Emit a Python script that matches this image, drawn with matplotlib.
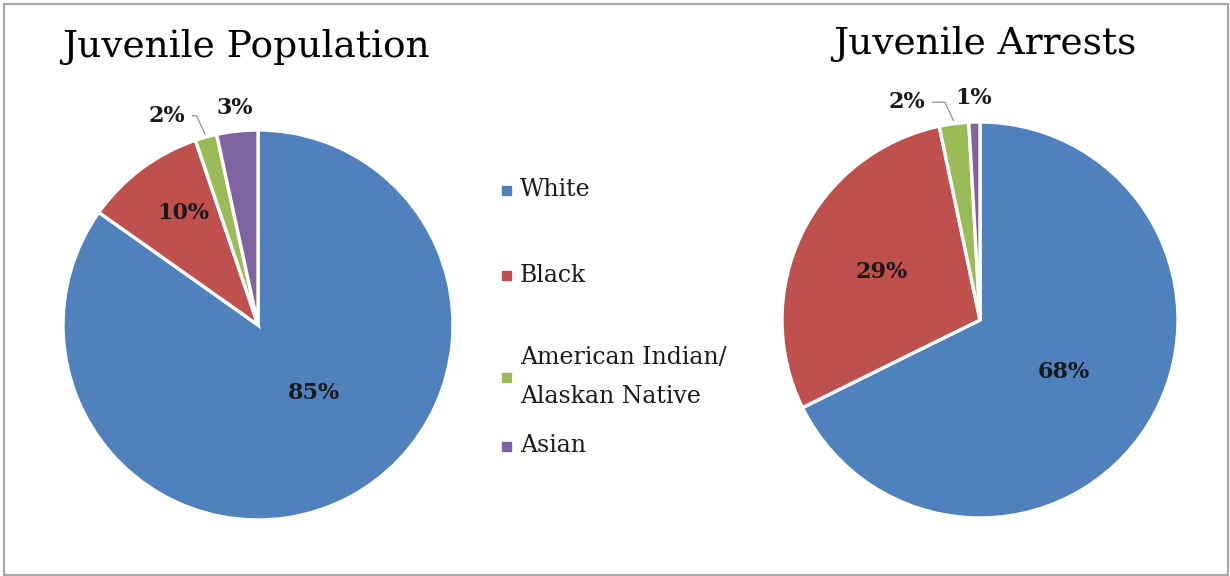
import numpy as np
import matplotlib.pyplot as plt
from matplotlib.patches import Rectangle

categories = ["White", "Black", "American Indian/\nAlaskan Native", "Asian"]
population = [84.8, 10.0, 1.8, 3.4]
arrests = [67.7, 29.0, 2.4, 0.9]
colors = ["#4F81BD", "#C0504D", "#9BBB59", "#8064A2"]

# label placement per wedge: (distance as fraction of radius, angle nudge in degrees, leader line)
pop_lbl = [(0.45, 12, False), (0.69, -3, False), (1.17, 8, True), (1.12, 0, False)]
arr_lbl = [(0.5, 0, False), (0.55, 0, False), (1.16, 11, True), (1.12, 0, False)]

plt.rcParams['font.family'] = ['DejaVu Serif']

fig = plt.figure(figsize=(12.3, 5.76), dpi=100)
ax = fig.add_axes([0, 0, 1, 1])


def draw_pie(vals, cx, cy, r, lbl):
    wedges, _ = ax.pie(vals, colors=colors, startangle=90, counterclock=False,
                       center=(cx, cy), radius=r,
                       wedgeprops=dict(edgecolor='white', linewidth=2.4))
    for w, v, (d, nudge, leader) in zip(wedges, vals, lbl):
        mid = np.deg2rad((w.theta1 + w.theta2) / 2)
        ang = mid + np.deg2rad(nudge)
        tx, ty = cx + d * r * np.cos(ang), cy + d * r * np.sin(ang)
        txt = '%.0f%%' % v
        if leader:
            ex, ey = cx + (r + 3) * np.cos(mid), cy + (r + 3) * np.sin(mid)
            ax.annotate(txt, xy=(ex, ey), xytext=(tx, ty), ha='center', va='center',
                        fontsize=16, fontweight='bold', color='#1a1a1a',
                        arrowprops=dict(arrowstyle='-', color='#909090', lw=0.9,
                                        shrinkA=3, shrinkB=0,
                                        connectionstyle='angle,angleA=0,angleB=115,rad=0'))
        else:
            ax.text(tx, ty, txt, ha='center', va='center', fontsize=16,
                    fontweight='bold', color='#1a1a1a')


draw_pie(population, 258, 576 - 325, 195, pop_lbl)
draw_pie(arrests, 980, 576 - 320, 198, arr_lbl)

ax.text(246, 576 - 47, "Juvenile Population", ha='center', va='center', fontsize=27)
ax.text(985, 576 - 44, "Juvenile Arrests", ha='center', va='center', fontsize=27)

# legend
leg_y = [190, 275, 377, 446]
for c, lab, y in zip(colors, categories, leg_y):
    ax.add_patch(Rectangle((502, 576 - y - 4.5), 9, 9, color=c))
    ax.text(520, 576 - y, lab, ha='left', va='center', fontsize=17,
            color='#1a1a1a', linespacing=1.85)

ax.set_xlim(0, 1230)
ax.set_ylim(0, 576)
ax.set_aspect('auto')
ax.axis('off')

fig.add_artist(Rectangle((4 / 1230, 1.5 / 576), 1224 / 1230, 571 / 576,
                         transform=fig.transFigure, fill=False,
                         edgecolor='#a6a6a6', lw=1.5))

fig.savefig('out.png', dpi=100)
